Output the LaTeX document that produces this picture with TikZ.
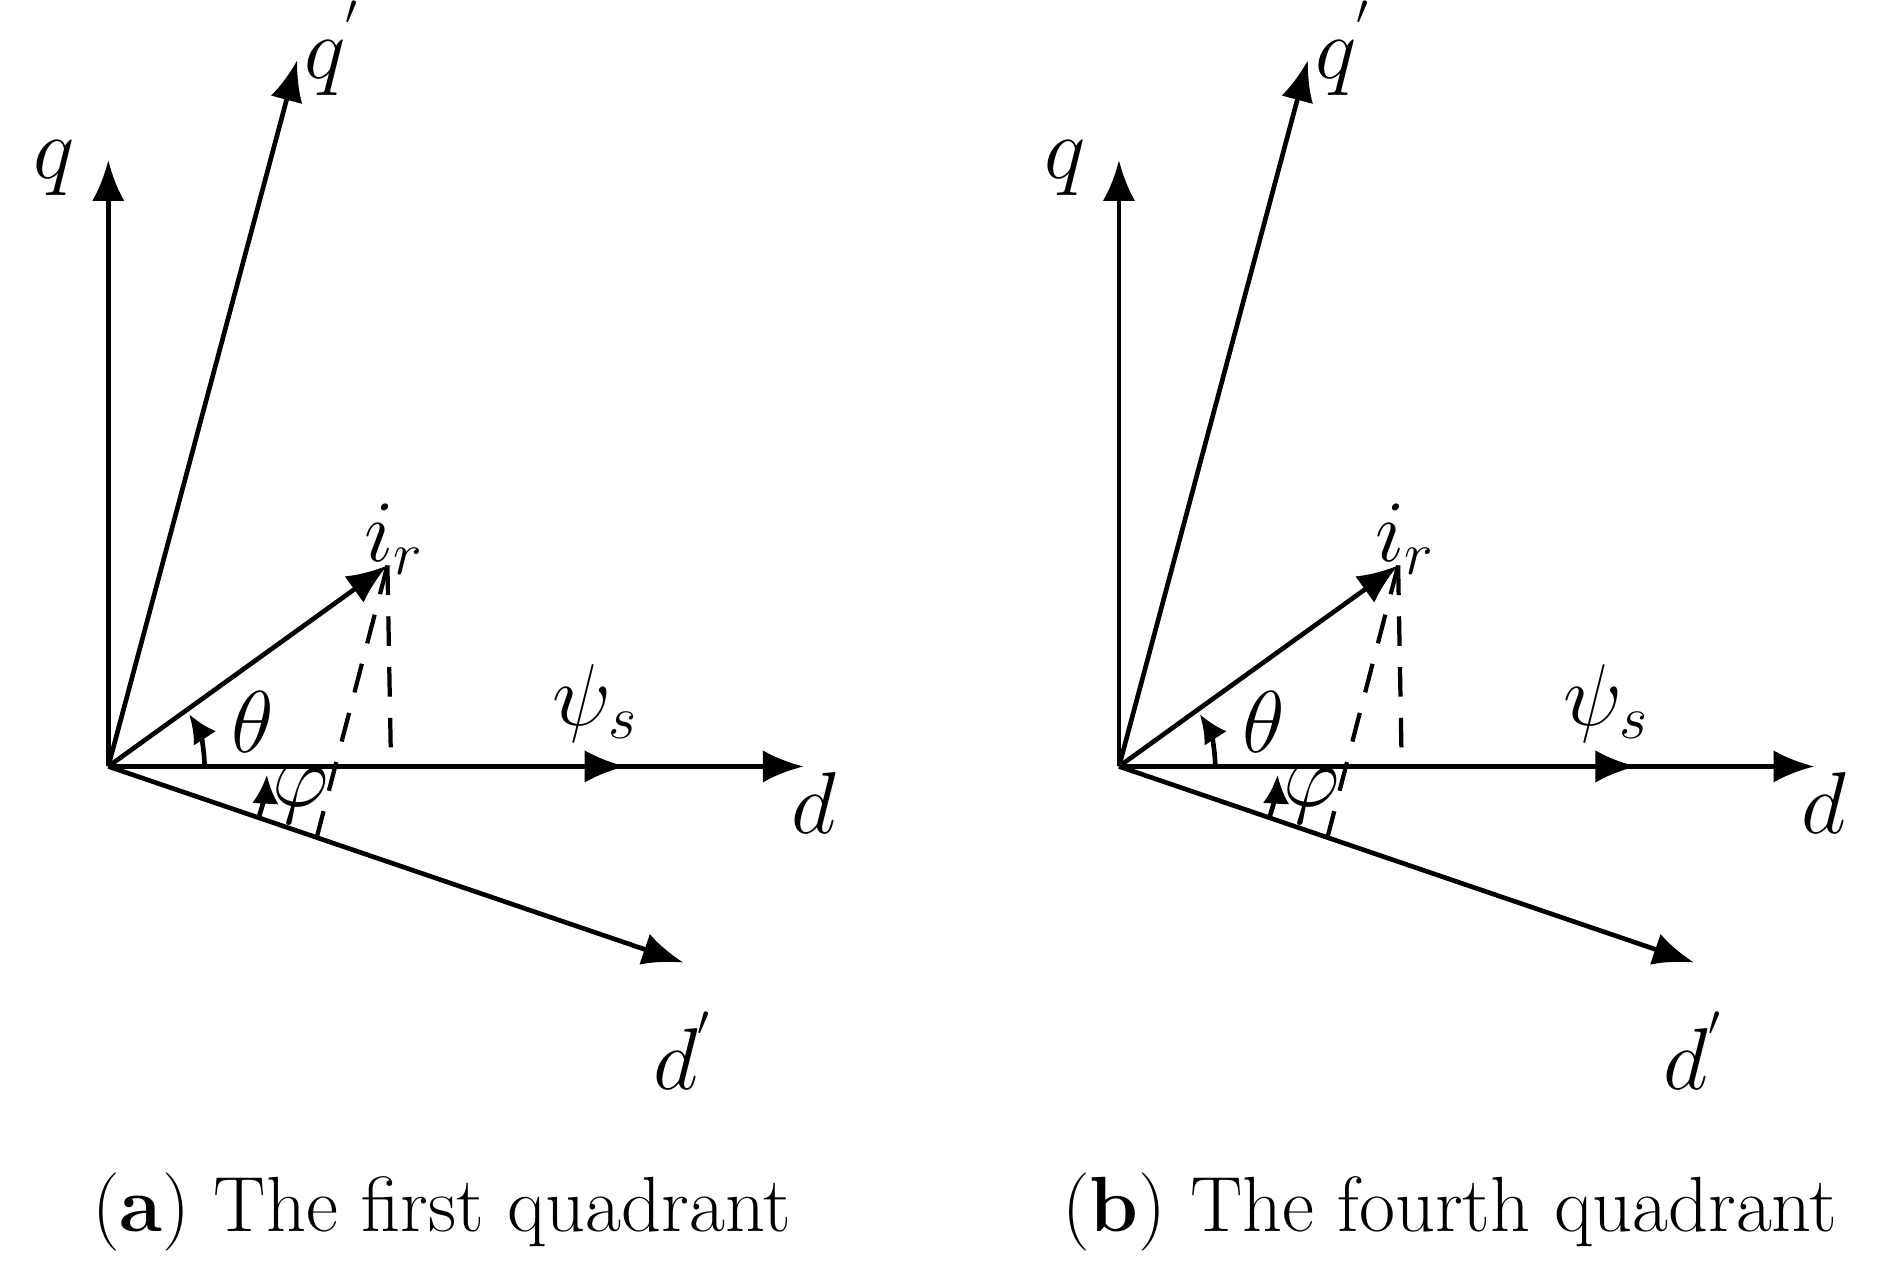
\documentclass[tikz,border=0pt]{standalone}
\usepackage{amsmath}
\usetikzlibrary{arrows.meta}
\tikzset{
  vec/.style={line width=1.1pt, -{Latex[length=3.4mm,width=2.7mm]}},
  lbl/.style={font=\fontsize{20}{22}\selectfont},
  captxt/.style={font=\fontsize{18.5}{22}\selectfont}
}
\begin{document}
\begin{tikzpicture}[x=0.01cm,y=-0.01cm]
        \useasboundingbox (0,0) rectangle (1560,1052);
        % two panels, same drawing
        \foreach \sx/\cx/\tag/\txt in {0/367/a/first, 840/365/b/fourth}{
        \begin{scope}[xshift=\sx*0.01cm]
        \coordinate (O) at (90,637);
        \coordinate (Ir) at (322,470);
        \coordinate (Ft) at (325,637);
        \coordinate (Fd) at (263,697);
        % axes
        \draw[vec] (O) -- (90,133) coordinate (Q);
        \draw[vec] (O) -- (247,50) coordinate (Qp);
        \draw[vec] (O) -- (668,637) coordinate (D);
        \draw[vec] (O) -- (568,800) coordinate (Dp);
        \draw[vec] (O) -- (Ir);
        \draw[vec] (O) -- (520,637) coordinate (Psi);
        % projections
        \draw[line width=1pt, dash pattern=on 7pt off 5pt] (Ir) -- (Ft);
        \draw[line width=1pt, dash pattern=on 7pt off 5pt] (Ir) -- (Fd);
        % angles
        \draw[line width=1.1pt, -{Latex[length=2.4mm,width=2.2mm]}] (O) ++(0:80) arc[start angle=0, end angle=-33, radius=80];
        \draw[line width=1.1pt, -{Latex[length=2.4mm,width=2.2mm]}] (O) ++(18.8:132) arc[start angle=18.8, end angle=3, radius=132];
        % labels
        \node[lbl] (lq) at (45,140) {$q$};
        \node[lbl] (lqp) at (277,40) {$q^{'}$};
        \node[lbl] (lir) at (328,448) {$i_r$};
        \node[lbl] (lpsi) at (495,585) {$\psi_s$};
        \node[lbl] (ld) at (676,667) {$d$};
        \node[lbl] (ldp) at (568,873) {$d^{'}$};
        \node[lbl] (lth) at (210,600) {$\theta$};
        \node[lbl] (lph) at (250,662) {$\varphi$};
        \node[captxt] (cap) at (\cx,1007) {(\textbf{\tag}) The \txt\ quadrant};
        \end{scope}
        }
\end{tikzpicture}
\end{document}
